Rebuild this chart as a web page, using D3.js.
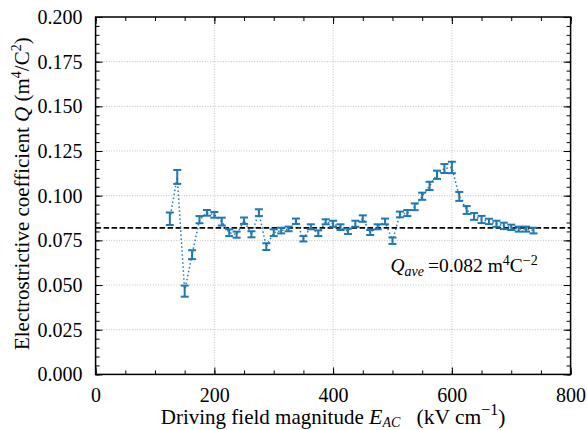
<!DOCTYPE html>
<html>
<head>
  <meta charset="UTF-8">
  <script src="https://cdn.jsdelivr.net/npm/d3@7"></script>
  <style>
      body { margin: 0; background: #fff; }
      text { font-family: "Liberation Serif", "DejaVu Serif", serif; fill: #000; }
  </style>
</head>
<body>
<div id="root"></div>
<script>

  // measured points: field magnitude (kV/cm), Q (m^4/C^2), half error bar
  var fieldKV = [125, 137.5, 150, 162.5, 175, 187.5, 200, 212.5, 225, 237.5,
                 250, 262.5, 275, 287.5, 300, 312.5, 325, 337.5, 350, 362.5,
                 375, 387.5, 400, 412.5, 425, 437.5, 450, 462.5, 475, 487.5,
                 500, 512.5, 525, 537.5, 550, 562.5, 575, 587.5, 600, 612.5,
                 625, 637.5, 650, 662.5, 675, 687.5, 700, 712.5, 725, 737.5];
  var qValues = [0.0871, 0.1105, 0.0466, 0.0670, 0.0866, 0.0904, 0.0893, 0.0855, 0.0793, 0.0782,
                 0.0860, 0.0784, 0.0905, 0.0715, 0.0793, 0.0805, 0.0814, 0.0857, 0.0759, 0.0826,
                 0.0790, 0.0854, 0.0843, 0.0824, 0.0801, 0.0843, 0.0872, 0.0794, 0.0826, 0.0856,
                 0.0748, 0.0895, 0.0903, 0.0938, 0.0997, 0.1055, 0.1117, 0.1152, 0.1158, 0.0996,
                 0.0920, 0.0884, 0.0867, 0.0856, 0.0843, 0.0831, 0.0823, 0.0813, 0.0813, 0.0805];
  var qErrors = [0.0035, 0.0039, 0.0031, 0.0025, 0.0020, 0.0016, 0.0016, 0.0022, 0.0019, 0.0017,
                 0.0018, 0.0017, 0.0019, 0.0019, 0.0019, 0.0016, 0.0013, 0.0015, 0.0015, 0.0014,
                 0.0016, 0.0014, 0.0017, 0.0016, 0.0015, 0.0017, 0.0018, 0.0014, 0.0014, 0.0016,
                 0.0018, 0.0016, 0.0017, 0.0019, 0.0020, 0.0023, 0.0023, 0.0025, 0.0032, 0.0025,
                 0.0022, 0.0019, 0.0020, 0.0015, 0.0017, 0.0018, 0.0015, 0.0014, 0.0014, 0.0016];
  var qAverage = 0.082;

  var xTicks = [0, 200, 400, 600, 800];
  var yTicks = [0, 0.025, 0.05, 0.075, 0.1, 0.125, 0.15, 0.175, 0.2];

  var W = 587, H = 430;
  var margin = {top: 17, right: 16.4, bottom: 55.6, left: 95.6},
    width = W - margin.left - margin.right,
    height = H - margin.top - margin.bottom;

  var x = d3.scaleLinear().domain([0, 800]).range([0, width]);
  var y = d3.scaleLinear().domain([0, 0.2]).range([height, 0]);

  var svg = d3.select("#root").append("svg")
    .attr("width", W).attr("height", H);
  var g = svg.append("g")
    .attr("transform", "translate(" + margin.left + "," + margin.top + ")");

  // grid
  g.append("g").selectAll("line").data(xTicks.slice(1, -1)).join("line")
    .attr("x1", d => x(d)).attr("x2", d => x(d)).attr("y1", 0).attr("y2", height)
    .attr("stroke", "#b0b0b0").attr("stroke-width", 0.8).attr("stroke-dasharray", "1,1.6");
  g.append("g").selectAll("line").data(yTicks.slice(1, -1)).join("line")
    .attr("y1", d => y(d)).attr("y2", d => y(d)).attr("x1", 0).attr("x2", width)
    .attr("stroke", "#b0b0b0").attr("stroke-width", 0.8).attr("stroke-dasharray", "1,1.6");

  // axes with inward ticks on every side
  function styleAxis(sel) {
    sel.select(".domain").remove();
    sel.selectAll("line").attr("stroke", "#000").attr("stroke-width", 1);
    sel.selectAll("text").style("font-size", "20px");
  }
  var xMinor = d3.range(0, 801, 50), yMinor = d3.range(0, 0.2001, 0.005);

  g.append("g").attr("transform", "translate(0," + height + ")")
    .call(d3.axisBottom(x).tickValues(xMinor).tickSize(-4).tickFormat(""))
    .call(styleAxis);
  g.append("g").attr("transform", "translate(0," + height + ")")
    .call(d3.axisBottom(x).tickValues(xTicks).tickSize(-7).tickPadding(13).tickFormat(d3.format("d")))
    .call(styleAxis);
  g.append("g")
    .call(d3.axisTop(x).tickValues(xMinor).tickSize(-4).tickFormat(""))
    .call(styleAxis);
  g.append("g")
    .call(d3.axisTop(x).tickValues(xTicks).tickSize(-7).tickFormat(""))
    .call(styleAxis);
  g.append("g")
    .call(d3.axisLeft(y).tickValues(yMinor).tickSize(-4).tickFormat(""))
    .call(styleAxis);
  g.append("g")
    .call(d3.axisLeft(y).tickValues(yTicks).tickSize(-7).tickPadding(13).tickFormat(d3.format(".3f")))
    .call(styleAxis);
  g.append("g").attr("transform", "translate(" + width + ",0)")
    .call(d3.axisRight(y).tickValues(yMinor).tickSize(-4).tickFormat(""))
    .call(styleAxis);
  g.append("g").attr("transform", "translate(" + width + ",0)")
    .call(d3.axisRight(y).tickValues(yTicks).tickSize(-7).tickFormat(""))
    .call(styleAxis);

  // average line
  g.append("line")
    .attr("x1", 0).attr("x2", width).attr("y1", y(qAverage)).attr("y2", y(qAverage))
    .attr("stroke", "#000").attr("stroke-width", 1.6).attr("stroke-dasharray", "5.5,2.5");

  var pts = fieldKV.map((f, i) => ({f: f, q: qValues[i], e: qErrors[i]}));
  var blue = "#1f77b4";

  // dotted connector
  g.append("path").datum(pts)
    .attr("fill", "none").attr("stroke", blue).attr("stroke-width", 1.5)
    .attr("stroke-dasharray", "1.5,2.5")
    .attr("d", d3.line().x(d => x(d.f)).y(d => y(d.q)));

  // error bars
  var bars = g.append("g").attr("stroke", blue).attr("stroke-width", 2)
    .selectAll("g").data(pts).join("g");
  bars.append("line")
    .attr("x1", d => x(d.f)).attr("x2", d => x(d.f))
    .attr("y1", d => y(d.q - d.e)).attr("y2", d => y(d.q + d.e));
  bars.append("line")
    .attr("x1", d => x(d.f) - 4).attr("x2", d => x(d.f) + 4)
    .attr("y1", d => y(d.q + d.e)).attr("y2", d => y(d.q + d.e));
  bars.append("line")
    .attr("x1", d => x(d.f) - 4).attr("x2", d => x(d.f) + 4)
    .attr("y1", d => y(d.q - d.e)).attr("y2", d => y(d.q - d.e));

  // frame
  g.append("rect").attr("width", width).attr("height", height)
    .attr("fill", "none").attr("stroke", "#000").attr("stroke-width", 1.5);

  // annotation
  var ann = g.append("text").attr("x", x(500) - 2).attr("y", y(qAverage) + 44).style("font-size", "19.5px");
  ann.append("tspan").style("font-style", "italic").text("Q");
  ann.append("tspan").style("font-style", "italic").style("font-size", "14px").attr("dy", 4).text("ave");
  ann.append("tspan").attr("dy", -4).text("\u2009=0.082 m");
  ann.append("tspan").style("font-size", "14px").attr("dy", -7).text("4");
  ann.append("tspan").attr("dy", 7).text("C");
  ann.append("tspan").style("font-size", "14px").attr("dy", -7).text("\u22122");

  // axis labels
  var xl = svg.append("text").attr("x", margin.left + width / 2).attr("y", 424)
    .attr("text-anchor", "middle").style("font-size", "21px");
  xl.append("tspan").text("Driving field magnitude ");
  xl.append("tspan").style("font-style", "italic").style("font-size", "22px").text("E");
  xl.append("tspan").style("font-style", "italic").style("font-size", "14px").attr("dy", 3).text("AC");
  xl.append("tspan").attr("dy", -3).style("font-size", "21.5px").text("\u00a0\u00a0\u00a0(kV cm");
  xl.append("tspan").style("font-size", "16px").attr("dy", -9).text("\u22121");
  xl.append("tspan").attr("dy", 9).style("font-size", "21.5px").text(")");

  var yl = svg.append("text")
    .attr("transform", "translate(29," + (margin.top + height / 2 - 2) + ") rotate(-90)")
    .attr("text-anchor", "middle").style("font-size", "21px");
  yl.append("tspan").text("Electrostrictive coefficient ");
  yl.append("tspan").style("font-style", "italic").text("Q");
  yl.append("tspan").text(" (m");
  yl.append("tspan").style("font-size", "14px").attr("dy", -8).text("4");
  yl.append("tspan").attr("dy", 8).text("/C");
  yl.append("tspan").style("font-size", "14px").attr("dy", -8).text("2");
  yl.append("tspan").attr("dy", 8).text(")");

</script>
</body>
</html>
